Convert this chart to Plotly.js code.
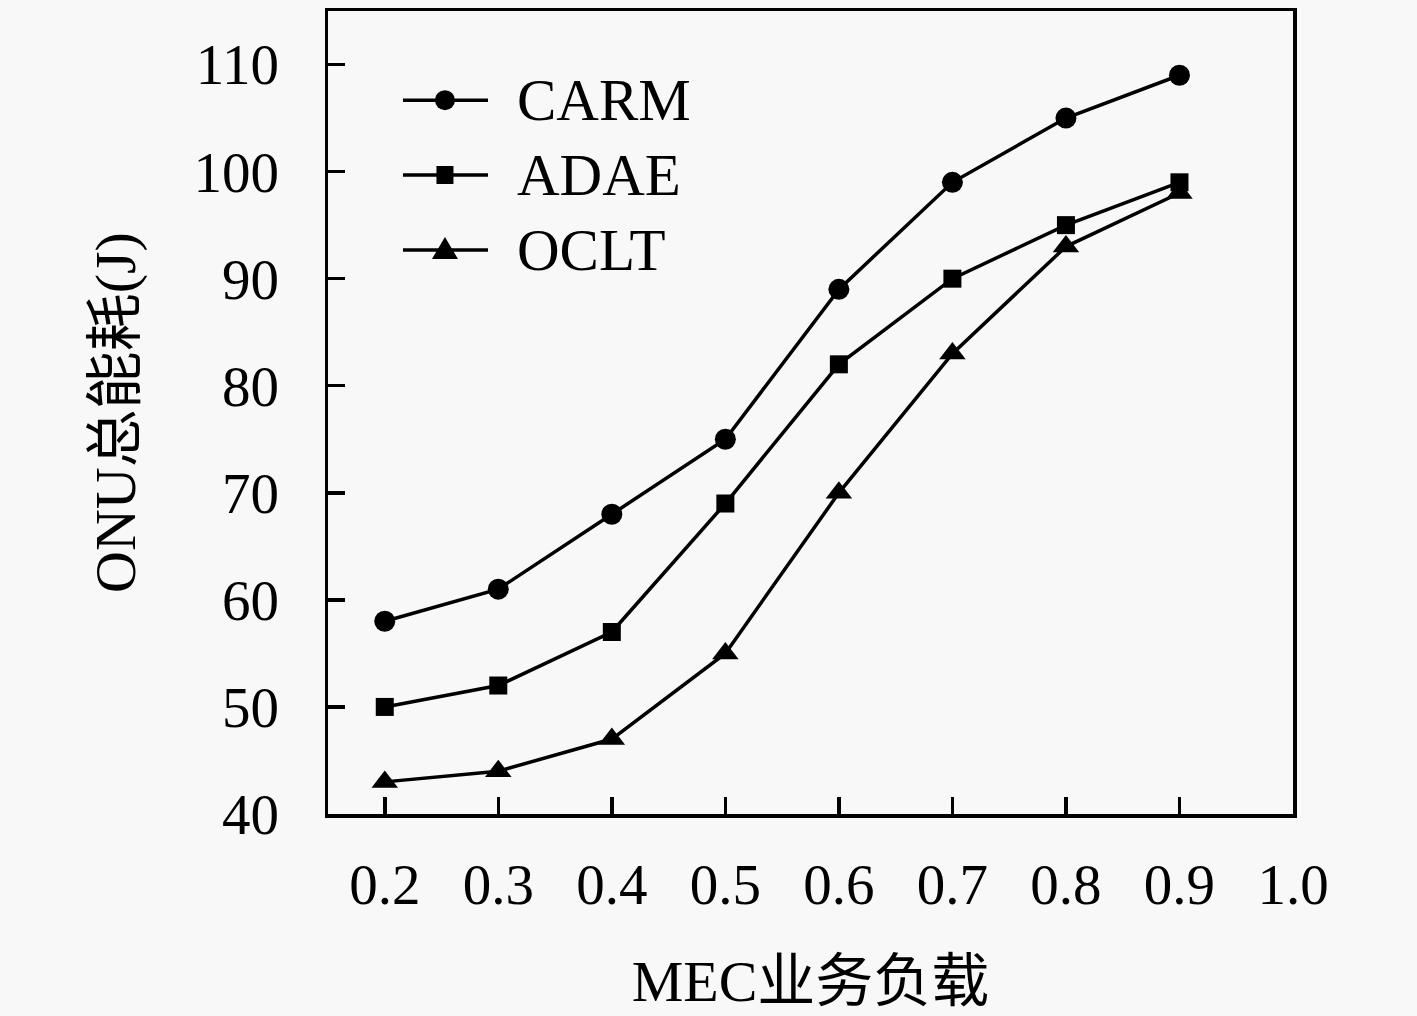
<!DOCTYPE html>
<html>
<head>
<meta charset="utf-8">
<script src="https://cdn.plot.ly/plotly-3.0.1.min.js"></script>
<style>html,body{margin:0;padding:0;background:#f8f8f8;}#chart{width:1417px;height:1016px;}</style>
</head>
<body>
<div id="chart"></div>
<script>
const loads = [0.2, 0.3, 0.4, 0.5, 0.6, 0.7, 0.8, 0.9];
const carm = [58, 61, 68, 75, 89, 99, 105, 109];
const adae = [50, 52, 57, 69, 82, 90, 95, 99];
const oclt = [43, 44, 47, 55, 70, 83, 93, 98];
const seriesNames = ['CARM', 'ADAE', 'OCLT'];
const xTicks = [0.2, 0.3, 0.4, 0.5, 0.6, 0.7, 0.8, 0.9, 1.0];
const xTickText = ['0.2', '0.3', '0.4', '0.5', '0.6', '0.7', '0.8', '0.9', '1.0'];
const yTicks = [40, 50, 60, 70, 80, 90, 100, 110];

const FONT = "'Liberation Serif', 'DejaVu Serif', 'Noto Sans CJK SC', serif";
const TITLEFONT = "'Liberation Serif', 'Noto Sans CJK SC', serif";

function tr(y, name, symbol, size) {
  return {
    x: loads, y: y, name: name, type: 'scatter', mode: 'lines+markers',
    line: {color: '#000', width: 3.5},
    marker: {symbol: symbol, size: size, color: '#000'},
    showlegend: false
  };
}
const data = [
  tr(carm, seriesNames[0], 'circle', 21),
  tr(adae, seriesNames[1], 'square', 18),
  tr(oclt, seriesNames[2], 'triangle-up', 23)
];

// custom legend (decoration)
const legX0 = 0.0777, legX1 = 0.1658, legM = 0.1212, legT = 0.1935;
const legY = [0.889, 0.7958, 0.7024];
const shapes = [];
const annotations = [];
legY.forEach((yy, i) => {
  shapes.push({type: 'line', xref: 'paper', yref: 'paper', x0: legX0, x1: legX1, y0: yy, y1: yy, line: {color: '#000', width: 3.5}});
  if (i === 0) {
    shapes.push({type: 'circle', xref: 'paper', yref: 'paper', xsizemode: 'pixel', ysizemode: 'pixel', xanchor: legM, yanchor: yy, x0: -10, x1: 10, y0: -10, y1: 10, fillcolor: '#000', line: {color: '#000', width: 0}});
  } else if (i === 1) {
    shapes.push({type: 'rect', xref: 'paper', yref: 'paper', xsizemode: 'pixel', ysizemode: 'pixel', xanchor: legM, yanchor: yy, x0: -8.5, x1: 8.5, y0: -9, y1: 9, fillcolor: '#000', line: {color: '#000', width: 0}});
  } else {
    shapes.push({type: 'path', xref: 'paper', yref: 'paper', xsizemode: 'pixel', ysizemode: 'pixel', xanchor: legM, yanchor: yy, path: 'M-13,-9 L13,-9 L0,13 Z', fillcolor: '#000', line: {color: '#000', width: 0}});
  }
  annotations.push({xref: 'paper', yref: 'paper', x: legT, y: yy, xanchor: 'left', yanchor: 'middle', showarrow: false, text: seriesNames[i], font: {family: FONT, size: 59, color: '#000'}});
});

const layout = {
  width: 1417, height: 1016,
  paper_bgcolor: '#f8f8f8', plot_bgcolor: '#f8f8f8',
  margin: {l: 328, r: 124, t: 11, b: 202},
  font: {family: FONT, color: '#000'},
  showlegend: false,
  xaxis: {
    range: [0.15, 1.0], tickmode: 'array', tickvals: xTicks, ticktext: xTickText,
    ticks: 'inside', ticklen: 17, tickwidth: 3.5, tickcolor: '#000',
    showline: true, linewidth: 3.5, linecolor: '#000', mirror: true,
    showgrid: false, zeroline: false,
    tickfont: {family: FONT, size: 57, color: '#000'}, ticklabelstandoff: 18,
    title: {text: 'MEC业务负载', font: {family: TITLEFONT, size: 58, color: '#000'}, standoff: 46}
  },
  yaxis: {
    range: [40, 115], tickmode: 'array', tickvals: yTicks,
    ticks: 'inside', ticklen: 17, tickwidth: 3.5, tickcolor: '#000',
    showline: true, linewidth: 3.5, linecolor: '#000', mirror: true,
    showgrid: false, zeroline: false,
    tickfont: {family: FONT, size: 57, color: '#000'}, ticklabelstandoff: 34,
    title: {text: 'ONU总能耗(J)', font: {family: TITLEFONT, size: 58, color: '#000'}, standoff: 40}
  },
  shapes: shapes,
  annotations: annotations
};
Plotly.newPlot('chart', data, layout, {displayModeBar: false, staticPlot: true});
</script>
</body>
</html>
